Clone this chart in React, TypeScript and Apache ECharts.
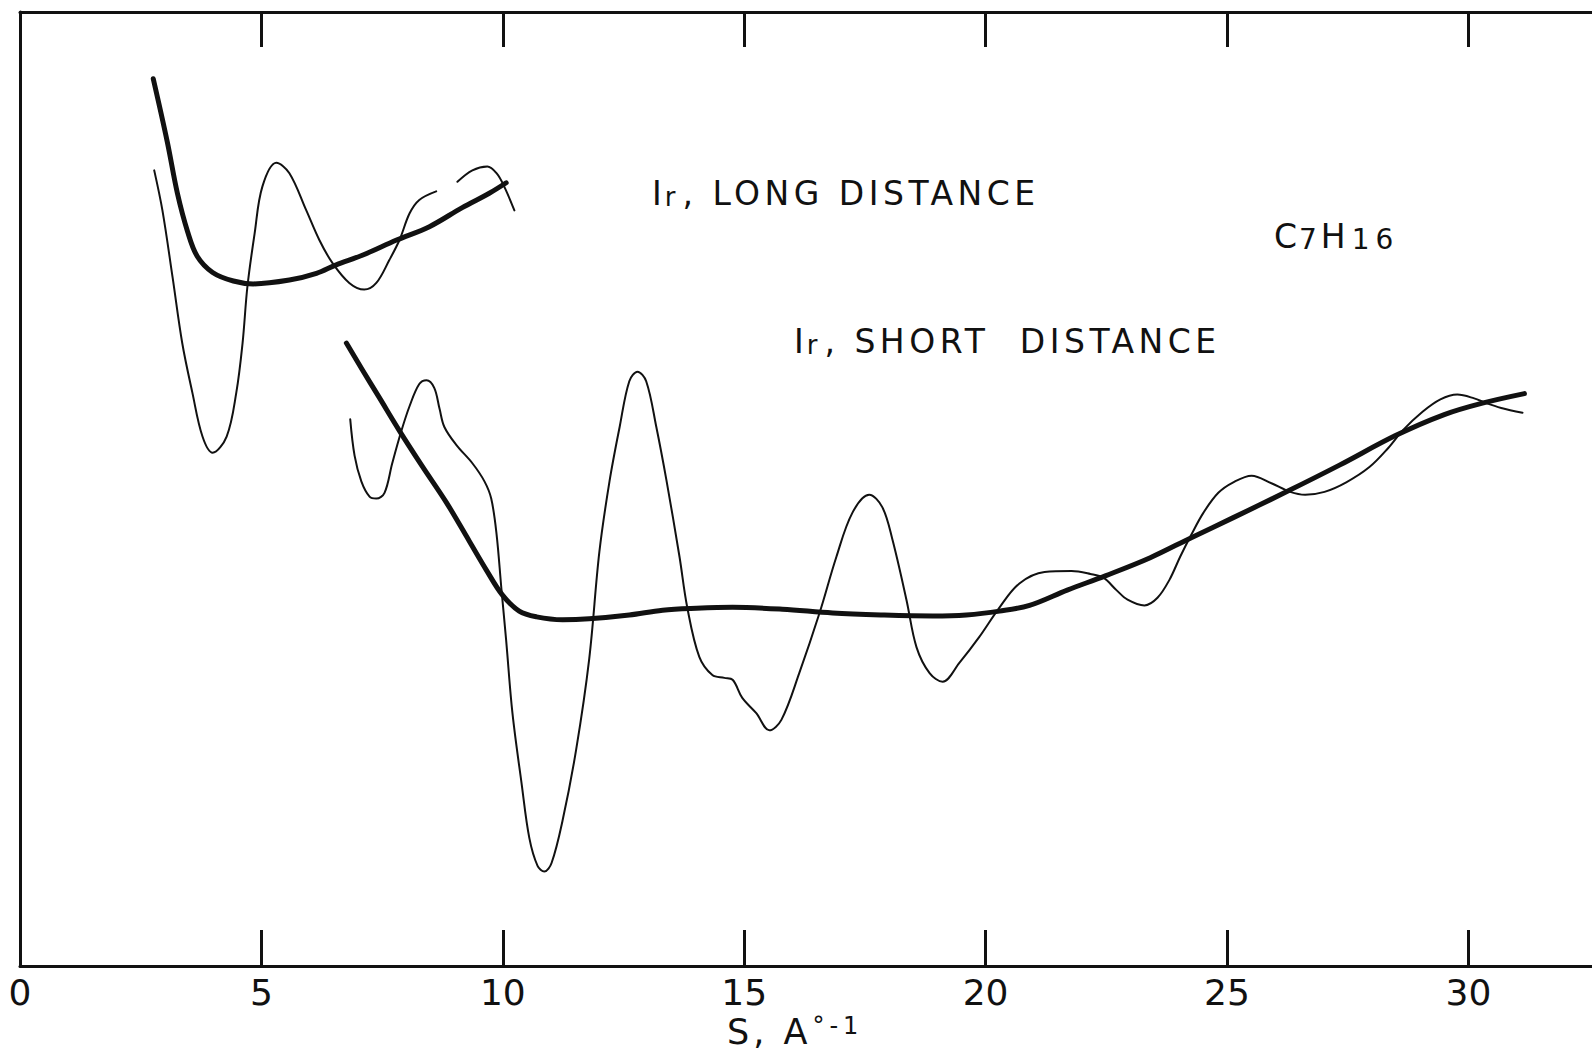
import React, { useEffect, useRef } from "react";
import * as echarts from "echarts";

// S values (Å^-1) and intensity (arbitrary units, 0–100)
const longThickS = [2.76, 3.05, 3.26, 3.47, 3.67, 3.99, 4.42, 4.83, 5.58, 6.14, 6.55, 7.09, 7.8, 8.48, 9.16, 9.72, 10.07];
const longThickV = [93.0, 86.4, 81.0, 77.0, 74.4, 72.7, 71.8, 71.5, 71.9, 72.6, 73.5, 74.5, 76.1, 77.5, 79.5, 81.0, 82.1];

const longThinS = [2.78, 2.95, 3.16, 3.36, 3.57, 3.78, 3.99, 4.28, 4.48, 4.61, 4.71, 4.86, 5.02, 5.31, 5.58, 5.93, 6.2, 6.47, 6.82, 7.13, 7.38, 7.65, 7.86, 8.07, 8.27, 8.62, 8.85, 9.06, 9.37, 9.68, 9.87, 10.03, 10.24];
const longThinV: (number | null)[] = [83.4, 79.2, 72.2, 65.3, 60.1, 55.5, 53.8, 55.5, 60.1, 65.3, 71.2, 76.8, 81.7, 84.2, 83.1, 79.2, 76.1, 73.7, 71.6, 70.9, 71.6, 74.0, 76.1, 78.9, 80.3, 81.2, null, 82.2, 83.4, 83.8, 83.1, 81.7, 79.2];

const shortThickS = [6.76, 7.09, 7.44, 7.86, 8.33, 8.83, 9.31, 9.66, 9.99, 10.34, 10.7, 11.24, 11.79, 12.62, 13.31, 14.01, 14.76, 15.79, 16.83, 17.86, 18.9, 19.6, 20.29, 20.91, 21.69, 22.48, 23.41, 24.26, 25.13, 26.23, 27.33, 28.49, 29.5, 30.29, 31.16];
const shortThickV = [65.3, 62.5, 59.6, 56.1, 52.4, 48.6, 44.5, 41.5, 38.9, 37.2, 36.6, 36.3, 36.4, 36.8, 37.3, 37.5, 37.6, 37.4, 37.0, 36.8, 36.7, 36.8, 37.2, 37.8, 39.4, 40.9, 42.8, 44.9, 47.0, 49.7, 52.5, 55.6, 57.8, 59.0, 60.0];

const shortThinS = [6.84, 6.93, 7.07, 7.24, 7.38, 7.55, 7.71, 7.9, 8.07, 8.27, 8.42, 8.58, 8.69, 8.79, 9.04, 9.37, 9.62, 9.76, 9.87, 9.97, 10.07, 10.2, 10.39, 10.55, 10.72, 10.86, 11.01, 11.24, 11.52, 11.79, 12.0, 12.21, 12.42, 12.62, 12.79, 12.97, 13.18, 13.39, 13.66, 13.82, 14.07, 14.34, 14.59, 14.76, 14.96, 15.25, 15.52, 15.77, 16.14, 16.56, 16.91, 17.24, 17.59, 17.86, 18.07, 18.36, 18.57, 18.84, 19.11, 19.46, 19.87, 20.29, 20.7, 21.22, 21.78, 22.17, 22.44, 22.71, 22.94, 23.29, 23.56, 23.81, 24.03, 24.26, 24.51, 24.82, 25.13, 25.51, 25.92, 26.31, 26.62, 27.02, 27.47, 27.95, 28.34, 28.65, 29.05, 29.42, 29.77, 30.12, 30.37, 30.68, 31.12];
const shortThinV = [57.3, 53.5, 50.8, 49.2, 49.0, 49.6, 52.7, 56.1, 58.7, 61.0, 61.4, 60.6, 58.4, 56.5, 54.6, 52.7, 50.8, 49.0, 45.3, 39.6, 34.1, 26.5, 19.1, 13.4, 10.5, 9.9, 10.8, 15.3, 22.7, 32.2, 43.4, 50.8, 56.5, 61.3, 62.3, 61.3, 56.5, 50.9, 42.9, 37.6, 32.4, 30.5, 30.2, 30.0, 28.1, 26.5, 24.7, 25.8, 30.7, 37.0, 42.9, 47.5, 49.4, 48.1, 44.7, 38.4, 33.4, 30.7, 29.8, 31.8, 34.5, 37.6, 40.1, 41.3, 41.4, 41.1, 40.7, 39.4, 38.4, 37.8, 38.6, 40.5, 42.9, 45.2, 47.5, 49.6, 50.7, 51.4, 50.6, 49.7, 49.4, 49.7, 50.7, 52.3, 54.3, 56.2, 58.1, 59.4, 59.9, 59.5, 59.0, 58.5, 58.0];

const xTickValues = [5, 10, 15, 20, 25, 30];
const xLabelValues = [0, 5, 10, 15, 20, 25, 30];
const xMin = 0;
const xMax = 32.56;

const INK = "#111111";
const FONT = "DejaVu Sans";

// extra letter spacing for the hand-lettered labels (applied to the SVG text)
const SPACING: Record<string, number> = {
  ", LONG DISTANCE": 4.5,
  ", SHORT": 4.5,
  DISTANCE: 4.5,
  "S, A": 4,
  "°-1": 5,
  "16": 6,
};

function zip(xs: number[], ys: (number | null)[]) {
  return xs.map((x, i) => [x, ys[i] === null ? "-" : ys[i]]);
}

export default function App() {
  const ref = useRef<HTMLDivElement>(null);
  useEffect(() => {
    if (!ref.current) return;
    const el = ref.current;
    const chart = echarts.init(el, undefined, { renderer: "svg" });
    const applySpacing = () => {
      el.querySelectorAll("text").forEach((t) => {
        const s = SPACING[(t.textContent || "").trim()];
        if (s) t.setAttribute("letter-spacing", String(s));
      });
    };
    chart.on("finished", applySpacing);
    const thick = { color: INK, width: 5, cap: "round" as const, join: "round" as const };
    const thin = { color: INK, width: 2, cap: "round" as const, join: "round" as const };
    const axisLineStyle = { color: INK, width: 3 };
    const labelRich = {
      m: { fontFamily: FONT, fontSize: 33, lineHeight: 33, color: INK },
      b: { fontFamily: FONT, fontSize: 26, lineHeight: 20, color: INK, verticalAlign: "bottom", padding: [0, 7, 0, 3] },
      d: { fontFamily: FONT, fontSize: 33, lineHeight: 33, color: INK, padding: [0, 0, 0, 62] },
    };
    chart.setOption({
      animation: false,
      backgroundColor: "#ffffff",
      textStyle: { fontFamily: FONT, color: INK },
      grid: { left: 20, right: 0, top: 12, bottom: 86, containLabel: false },
      xAxis: [
        {
          type: "value",
          position: "bottom",
          min: xMin,
          max: xMax,
          interval: 5,
          axisLine: { show: true, onZero: false, lineStyle: axisLineStyle },
          axisTick: { show: true, inside: true, length: 36, lineStyle: axisLineStyle, customValues: xTickValues },
          axisLabel: {
            show: true,
            customValues: xLabelValues,
            fontFamily: FONT,
            fontSize: 36,
            color: INK,
            margin: 8,
          },
          splitLine: { show: false },
        },
        {
          type: "value",
          position: "top",
          min: xMin,
          max: xMax,
          interval: 5,
          axisLine: { show: true, onZero: false, lineStyle: axisLineStyle },
          axisTick: { show: true, inside: true, length: 35, lineStyle: axisLineStyle, customValues: xTickValues },
          axisLabel: { show: false },
          splitLine: { show: false },
        },
      ],
      yAxis: {
        type: "value",
        min: 0,
        max: 100,
        axisLine: { show: true, onZero: false, lineStyle: axisLineStyle },
        axisTick: { show: false },
        axisLabel: { show: false },
        splitLine: { show: false },
      },
      graphic: [
        {
          type: "text",
          x: 652,
          y: 177,
          style: {
            text: "{m|I}{b|r}{m|, LONG DISTANCE}",
            align: "left",
            verticalAlign: "top",
            fill: INK,
            rich: labelRich,
          },
        },
        {
          type: "text",
          x: 794,
          y: 325,
          style: {
            text: "{m|I}{b|r}{m|, SHORT}{d|DISTANCE}",
            align: "left",
            verticalAlign: "top",
            fill: INK,
            rich: labelRich,
          },
        },
        {
          type: "text",
          x: 1274,
          y: 220,
          style: {
            text: "{m|C}{b|7}{m|H}{c|16}",
            align: "left",
            verticalAlign: "top",
            fill: INK,
            rich: {
              m: { fontFamily: FONT, fontSize: 33, lineHeight: 33, color: INK },
              b: { fontFamily: FONT, fontSize: 28, lineHeight: 16, color: INK, verticalAlign: "bottom", padding: [0, 4, 0, 2] },
              c: { fontFamily: FONT, fontSize: 28, lineHeight: 16, color: INK, verticalAlign: "bottom", padding: [0, 0, 0, 6] },
            },
          },
        },
        {
          type: "text",
          x: 727,
          y: 1014,
          style: {
            text: "{n|S, A}{s|°-1}",
            align: "left",
            verticalAlign: "top",
            fill: INK,
            rich: {
              n: { fontFamily: FONT, fontSize: 35, lineHeight: 35, color: INK },
              s: { fontFamily: FONT, fontSize: 24, lineHeight: 24, color: INK, verticalAlign: "top", padding: [0, 0, 0, 17] },
            },
          },
        },
      ],
      series: [
        { name: "long-thick", type: "line", data: zip(longThickS, longThickV), showSymbol: false, symbol: "none", smooth: 0.35, lineStyle: thick },
        { name: "long-thin", type: "line", data: zip(longThinS, longThinV), showSymbol: false, symbol: "none", smooth: 0.35, connectNulls: false, lineStyle: thin },
        { name: "short-thick", type: "line", data: zip(shortThickS, shortThickV), showSymbol: false, symbol: "none", smooth: 0.35, lineStyle: thick },
        { name: "short-thin", type: "line", data: zip(shortThinS, shortThinV), showSymbol: false, symbol: "none", smooth: 0.35, lineStyle: thin },
      ],
    });
    applySpacing();
    return () => chart.dispose();
  }, []);
  return (
    <div
      ref={ref}
      style={{ position: "absolute", left: 0, top: 0, width: 1592, height: 1052, background: "#ffffff" }}
    />
  );
}
